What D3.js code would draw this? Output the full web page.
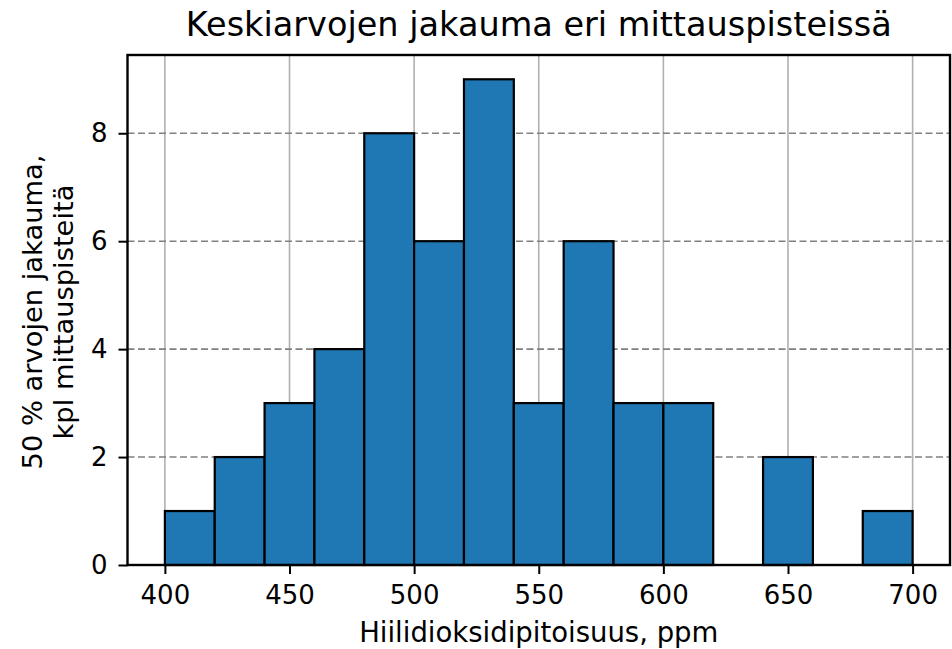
<!DOCTYPE html>
<html>
<head>
<meta charset="utf-8">
<script src="https://cdn.jsdelivr.net/npm/d3@7"></script>
<style>
  html, body { margin: 0; padding: 0; background: #fff; }
  svg { display: block; font-family: "DejaVu Sans", sans-serif; }
</style>
</head>
<body>
<svg id="chart" width="952" height="649"></svg>
<script>
// Histogram bins (ppm) and counts per bin
const binStarts = [400, 420, 440, 460, 480, 500, 520, 540, 560, 580, 600, 620, 640, 660, 680];
const binWidth = 20;
const counts = [1, 2, 3, 4, 8, 6, 9, 3, 6, 3, 3, 0, 2, 0, 1];
const xTicks = [400, 450, 500, 550, 600, 650, 700];
const yTicks = [0, 2, 4, 6, 8];

const titleText = "Keskiarvojen jakauma eri mittauspisteissä";
const xLabel = "Hiilidioksidipitoisuus, ppm";
const yLabelLines = ["50 % arvojen jakauma,", "kpl mittauspisteitä"];

const svg = d3.select("#chart");
const margin = { left: 127.5, right: 2, top: 55, bottom: 84 };
const W = 952, H = 649;
const plotW = W - margin.left - margin.right;
const plotH = H - margin.top - margin.bottom;

const x = d3.scaleLinear().domain([385, 715]).range([0, plotW]);
const y = d3.scaleLinear().domain([0, 9.45]).range([plotH, 0]);

const g = svg.append("g").attr("transform", `translate(${margin.left},${margin.top})`);

// Grid: solid vertical, dashed horizontal
g.append("g").selectAll("line").data(xTicks).join("line")
  .attr("x1", d => x(d)).attr("x2", d => x(d))
  .attr("y1", 0).attr("y2", plotH)
  .attr("stroke", "#b0b0b0").attr("stroke-width", 1.6);
g.append("g").selectAll("line").data(yTicks).join("line")
  .attr("x1", 0).attr("x2", plotW)
  .attr("y1", d => y(d)).attr("y2", d => y(d))
  .attr("stroke", "#808080").attr("stroke-width", 1.6)
  .attr("stroke-dasharray", "7,3.5");

// Bars
const bins = binStarts.map((s, i) => ({ x0: s, x1: s + binWidth, n: counts[i] }));
g.append("g").selectAll("rect").data(bins).join("rect")
  .attr("x", d => x(d.x0))
  .attr("width", d => x(d.x1) - x(d.x0))
  .attr("y", d => y(d.n))
  .attr("height", d => y(0) - y(d.n))
  .attr("fill", "#1f77b4")
  .attr("stroke", "#000")
  .attr("stroke-width", 2.2);

// Axes
const xAxis = d3.axisBottom(x).tickValues(xTicks).tickFormat(d3.format("d")).tickSizeOuter(0).tickSize(9).tickPadding(12);
const yAxis = d3.axisLeft(y).tickValues(yTicks).tickFormat(d3.format("d")).tickSizeOuter(0).tickSize(9).tickPadding(11);

const gx = g.append("g").attr("transform", `translate(0,${plotH})`).call(xAxis);
const gy = g.append("g").call(yAxis);
[gx, gy].forEach(a => {
  a.attr("font-size", null).attr("font-family", null);
  a.select(".domain").remove();
  a.selectAll(".tick line").attr("stroke", "#000").attr("stroke-width", 2);
  a.selectAll(".tick text").attr("fill", "#000").style("font-size", "26px").style("font-family", "DejaVu Sans");
});

// Frame
g.append("rect").attr("x", 0).attr("y", 0).attr("width", plotW).attr("height", plotH)
  .attr("fill", "none").attr("stroke", "#000").attr("stroke-width", 2.4);

// Title
svg.append("text").attr("x", margin.left + plotW / 2).attr("y", 36)
  .attr("text-anchor", "middle").style("font-size", "33.5px").text(titleText);

// X label
svg.append("text").attr("x", margin.left + plotW / 2).attr("y", 642)
  .attr("text-anchor", "middle").style("font-size", "27.5px").text(xLabel);

// Y label, two lines
const yl = svg.append("text")
  .attr("transform", `translate(42,${margin.top + plotH / 2 + 2}) rotate(-90)`)
  .attr("text-anchor", "middle").style("font-size", "27.3px");
yl.selectAll("tspan").data(yLabelLines).join("tspan")
  .attr("x", 0).attr("dy", (d, i) => i === 0 ? 0 : 30.5).text(d => d);
</script>
</body>
</html>
